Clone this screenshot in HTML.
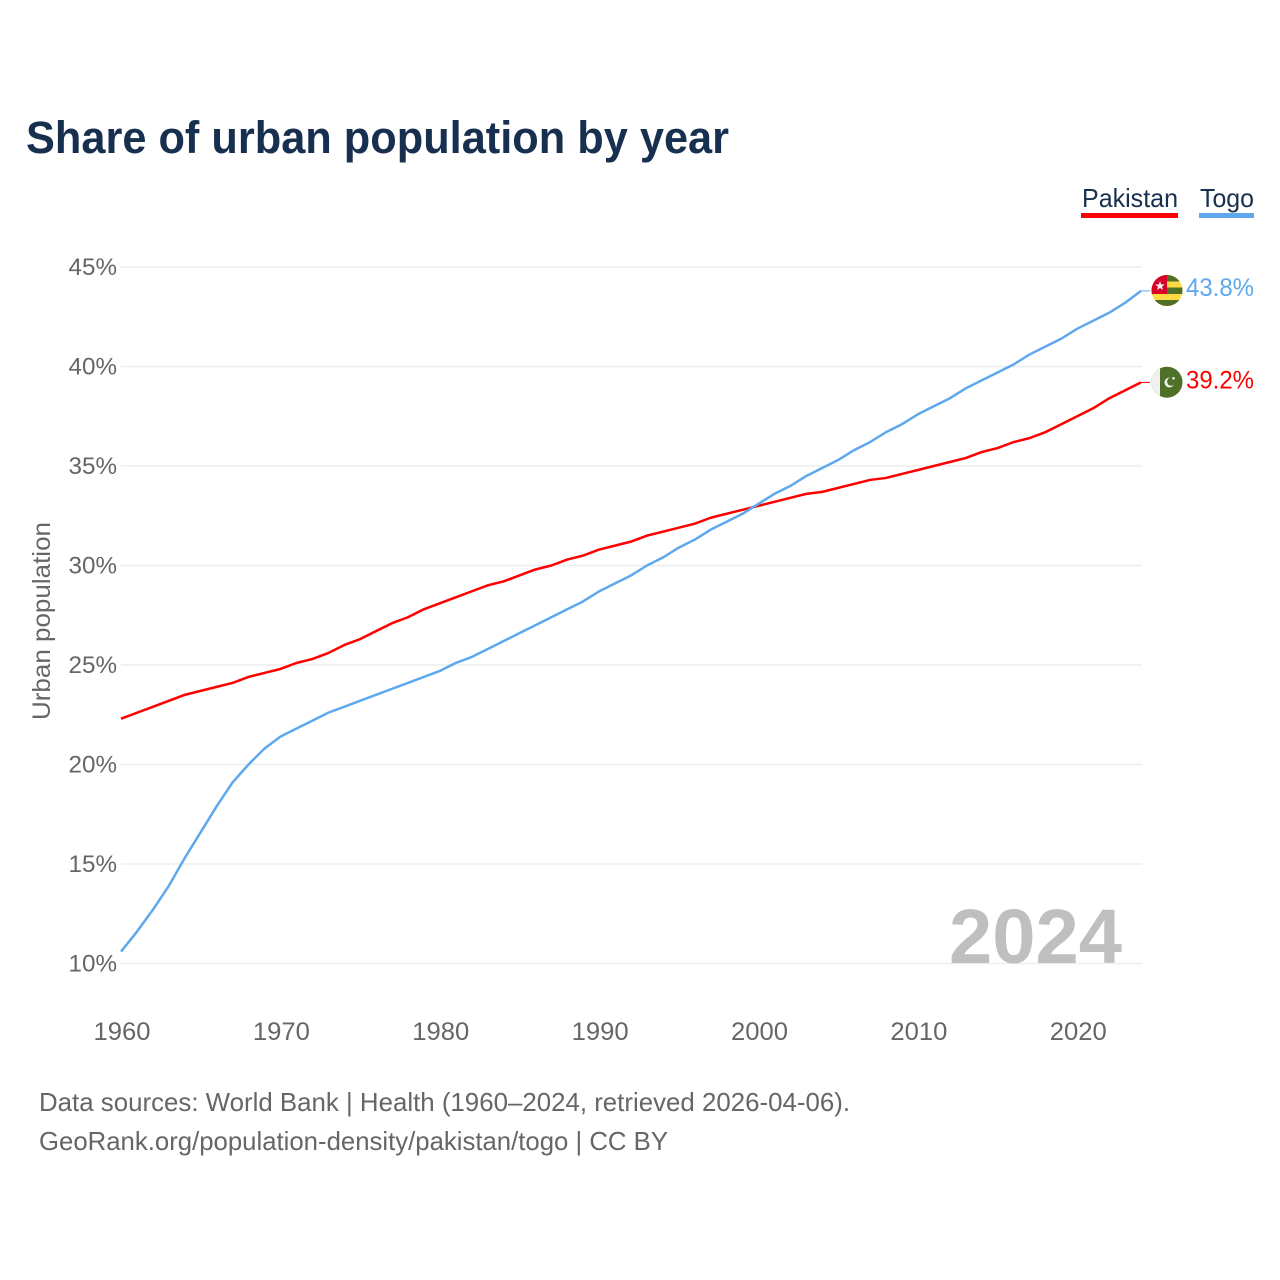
<!DOCTYPE html>
<html lang="en">
<head>
<meta charset="utf-8">
<title>Share of urban population by year</title>
<style>
html,body{margin:0;padding:0;background:#fff;}
svg{display:block;font-family:"Liberation Sans",sans-serif;}
</style>
</head>
<body>
<svg id="chart" xmlns="http://www.w3.org/2000/svg" width="1280" height="1280" viewBox="0 0 1280 1280">
  <rect width="1280" height="1280" fill="#fff"/>
  <text x="26" y="153" font-size="45" font-weight="700" fill="#18304f" textLength="703" lengthAdjust="spacingAndGlyphs">Share of urban population by year</text>

  <g>
    <text x="1082" y="207" font-size="26" fill="#18304f" textLength="96" lengthAdjust="spacingAndGlyphs">Pakistan</text>
    <rect x="1081" y="213" width="97" height="5" fill="#ff0000"/>
  </g>
  <g>
    <text x="1200" y="207" font-size="26" fill="#18304f" textLength="54" lengthAdjust="spacingAndGlyphs">Togo</text>
    <rect x="1199" y="213" width="55" height="5" fill="#5fa8ee"/>
  </g>

  <g id="grid"></g>
  <g id="yticks"></g>
  <g id="xticks"></g>
  <text transform="translate(50,621) rotate(-90)" text-anchor="middle" font-size="25" fill="#666" textLength="198" lengthAdjust="spacingAndGlyphs">Urban population</text>
  <text x="1122" y="963" text-anchor="end" font-size="77" font-weight="700" fill="#bfbfbf" textLength="173" lengthAdjust="spacingAndGlyphs">2024</text>

  <g id="series"></g>

  <defs>
    <clipPath id="clip-togo"><circle cx="1167" cy="290.5" r="15.5"/></clipPath>
    <clipPath id="clip-pak"><circle cx="1167" cy="382.2" r="15.5"/></clipPath>
  </defs>
  <g clip-path="url(#clip-togo)">
    <rect x="1151" y="275" width="32" height="32" fill="#ffda44"/>
    <rect x="1151" y="275" width="32" height="6.5" fill="#4f7028"/>
    <rect x="1151" y="287.5" width="32" height="6.5" fill="#4f7028"/>
    <rect x="1151" y="300" width="32" height="7" fill="#4f7028"/>
    <rect x="1151" y="275" width="16" height="19" fill="#d80027"/>
    <polygon points="1160,281 1161.2,284.4 1164.8,284.5 1162,286.6 1163,290 1160,288 1157,290 1158,286.6 1155.2,284.5 1158.8,284.4" fill="#f0f0f0"/>
  </g>
  <g clip-path="url(#clip-pak)">
    <rect x="1151" y="366" width="32" height="32" fill="#4f7028"/>
    <rect x="1151" y="366" width="9" height="32" fill="#f0f0f0"/>
    <circle cx="1169.5" cy="382.5" r="5" fill="#f0f0f0"/>
    <circle cx="1171.3" cy="381.6" r="4.2" fill="#4f7028"/>
    <circle cx="1173.5" cy="378.3" r="1.3" fill="#f0f0f0"/>
  </g>
  <text x="1186" y="296" font-size="25" fill="#5fa8ee" textLength="68" lengthAdjust="spacingAndGlyphs">43.8%</text>
  <text x="1186" y="388.5" font-size="25" fill="#ff0000" textLength="68" lengthAdjust="spacingAndGlyphs">39.2%</text>

  <text x="39" y="1111" font-size="26" fill="#666" textLength="811" lengthAdjust="spacingAndGlyphs">Data sources: World Bank | Health (1960–2024, retrieved 2026-04-06).</text>
  <text x="39" y="1150" font-size="26" fill="#666" textLength="629" lengthAdjust="spacingAndGlyphs">GeoRank.org/population-density/pakistan/togo | CC BY</text>
</svg>
<script>
const startYear = 1960;
const yTickValues = [10, 15, 20, 25, 30, 35, 40, 45];
const xTickValues = [1960, 1970, 1980, 1990, 2000, 2010, 2020];
const pakistanValues = [22.3,22.6,22.9,23.2,23.5,23.7,23.9,24.1,24.4,24.6,24.8,25.1,25.3,25.6,26.0,26.3,26.7,27.1,27.4,27.8,28.1,28.4,28.7,29.0,29.2,29.5,29.8,30.0,30.3,30.5,30.8,31.0,31.2,31.5,31.7,31.9,32.1,32.4,32.6,32.8,33.0,33.2,33.4,33.6,33.7,33.9,34.1,34.3,34.4,34.6,34.8,35.0,35.2,35.4,35.7,35.9,36.2,36.4,36.7,37.1,37.5,37.9,38.4,38.8,39.2];
const togoValues = [10.6,11.6,12.7,13.9,15.3,16.6,17.9,19.1,20.0,20.8,21.4,21.8,22.2,22.6,22.9,23.2,23.5,23.8,24.1,24.4,24.7,25.1,25.4,25.8,26.2,26.6,27.0,27.4,27.8,28.2,28.7,29.1,29.5,30.0,30.4,30.9,31.3,31.8,32.2,32.6,33.1,33.6,34.0,34.5,34.9,35.3,35.8,36.2,36.7,37.1,37.6,38.0,38.4,38.9,39.3,39.7,40.1,40.6,41.0,41.4,41.9,42.3,42.7,43.2,43.8];

const NS = 'http://www.w3.org/2000/svg';
const xScale = function (year) { return 121 + (year - 1960) * (1141 - 121) / 64; };
const yScale = function (v) { return 963.5 - (v - 10) * (963.5 - 267) / 35; };

const grid = document.getElementById('grid');
const yticks = document.getElementById('yticks');
const xticks = document.getElementById('xticks');
const series = document.getElementById('series');

yTickValues.forEach(function (v) {
  const line = document.createElementNS(NS, 'line');
  
  
  line.setAttribute('x1', 121);
  line.setAttribute('x2', 1142);
  line.setAttribute('y1', yScale(v));
  line.setAttribute('y2', yScale(v));
  line.setAttribute('stroke', '#eeeeee');
  line.setAttribute('stroke-width', '1.5');
  grid.appendChild(line);

  const label = document.createElementNS(NS, 'text');
  
  
  label.setAttribute('x', 117);
  label.setAttribute('y', yScale(v) + 8);
  label.setAttribute('text-anchor', 'end');
  label.setAttribute('font-size', '24.5');
  label.setAttribute('fill', '#666');
  label.setAttribute('textLength', '48.5');
  label.setAttribute('lengthAdjust', 'spacingAndGlyphs');
  label.textContent = v + '%';
  yticks.appendChild(label);
});

xTickValues.forEach(function (year) {
  const label = document.createElementNS(NS, 'text');
  
  
  label.setAttribute('x', xScale(year) + 1);
  label.setAttribute('y', 1040);
  label.setAttribute('text-anchor', 'middle');
  label.setAttribute('font-size', '25');
  label.setAttribute('fill', '#666');
  label.setAttribute('textLength', '57');
  label.setAttribute('lengthAdjust', 'spacingAndGlyphs');
  label.textContent = year;
  xticks.appendChild(label);
});

function pointsFor(values) {
  return values.map(function (v, i) {
    return xScale(startYear + i).toFixed(2) + ',' + yScale(v).toFixed(2);
  }).join(' ');
}

const pakistanLine = document.createElementNS(NS, 'polyline');


pakistanLine.setAttribute('points', pointsFor(pakistanValues));
pakistanLine.setAttribute('fill', 'none');
pakistanLine.setAttribute('stroke', '#ff0000');
pakistanLine.setAttribute('stroke-width', '2.5');
pakistanLine.setAttribute('stroke-linejoin', 'round');
series.appendChild(pakistanLine);

const togoLine = document.createElementNS(NS, 'polyline');


togoLine.setAttribute('points', pointsFor(togoValues));
togoLine.setAttribute('fill', 'none');
togoLine.setAttribute('stroke', '#5fa8ee');
togoLine.setAttribute('stroke-width', '2.5');
togoLine.setAttribute('stroke-linejoin', 'round');
series.appendChild(togoLine);

const pakistanConnector = document.createElementNS(NS, 'line');


pakistanConnector.setAttribute('x1', xScale(2024));
pakistanConnector.setAttribute('x2', xScale(2024) + 9);
pakistanConnector.setAttribute('y1', yScale(pakistanValues[pakistanValues.length - 1]));
pakistanConnector.setAttribute('y2', yScale(pakistanValues[pakistanValues.length - 1]));
pakistanConnector.setAttribute('stroke', '#ff0000');
pakistanConnector.setAttribute('stroke-width', '1');
series.appendChild(pakistanConnector);

const togoConnector = document.createElementNS(NS, 'line');


togoConnector.setAttribute('x1', xScale(2024));
togoConnector.setAttribute('x2', xScale(2024) + 9);
togoConnector.setAttribute('y1', yScale(togoValues[togoValues.length - 1]));
togoConnector.setAttribute('y2', yScale(togoValues[togoValues.length - 1]));
togoConnector.setAttribute('stroke', '#5fa8ee');
togoConnector.setAttribute('stroke-width', '1');
series.appendChild(togoConnector);
</script>
</body>
</html>
